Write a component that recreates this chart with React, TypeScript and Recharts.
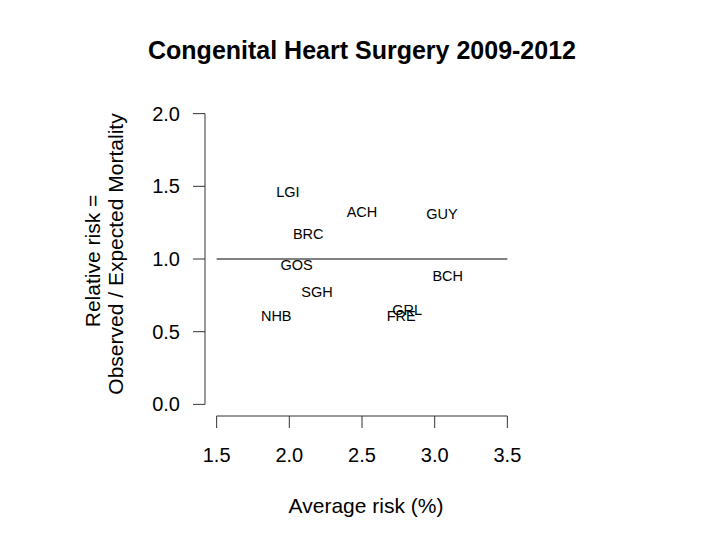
import React from "react";
import { ScatterChart, Scatter, XAxis, YAxis, ReferenceLine } from "recharts";

// hospital codes, average risk (%) and relative risk (observed / expected)
const hospitals = ["LGI", "ACH", "GUY", "BRC", "GOS", "BCH", "SGH", "NHB", "GRL", "FRE"];
const averageRisk = [1.99, 2.5, 3.05, 2.13, 2.05, 3.09, 2.19, 1.91, 2.81, 2.77];
const relativeRisk = [1.46, 1.32, 1.31, 1.17, 0.96, 0.88, 0.77, 0.61, 0.65, 0.61];

const xTicks = [1.5, 2.0, 2.5, 3.0, 3.5];
const yTicks = [0.0, 0.5, 1.0, 1.5, 2.0];

const points = hospitals.map((name, i) => ({ name, x: averageRisk[i], y: relativeRisk[i] }));

const FONT = "'Liberation Sans', Arial, Helvetica, sans-serif";
const AXIS_COLOR = "#333";

// R-like plot: labels drawn in place of the points
const LabelShape = (props: any) => {
    const { cx, cy, payload } = props;
    return (
        <text x={cx} y={cy} textAnchor="middle" dominantBaseline="central"
            fontFamily={FONT} fontSize={14.5} fill="#000">
            {payload.name}
        </text>
    );
};

export default function App() {
    return (
        <div style={{ position: "absolute", left: 0, top: 0, width: 722, height: 543, background: "#fff" }}>
            <ScatterChart width={722} height={543} margin={{ top: 102, right: 203, bottom: 97, left: 145 }}>
                <XAxis
                    type="number"
                    dataKey="x"
                    domain={[1.42, 3.58]}
                    ticks={xTicks}
                    interval={0}
                    allowDataOverflow
                    height={30}
                    axisLine={false}
                    tickLine={{ stroke: AXIS_COLOR }}
                    tickSize={12}
                    tickMargin={20}
                    tickFormatter={(v: number) => v.toFixed(1)}
                    tick={{ fill: "#000", fontSize: 20, fontFamily: FONT }}
                />
                <YAxis
                    type="number"
                    dataKey="y"
                    domain={[-0.08, 2.08]}
                    ticks={yTicks}
                    interval={0}
                    allowDataOverflow
                    width={60}
                    axisLine={false}
                    tickLine={{ stroke: AXIS_COLOR }}
                    tickSize={12}
                    tickMargin={13}
                    tickFormatter={(v: number) => v.toFixed(1)}
                    tick={{ fill: "#000", fontSize: 20, fontFamily: FONT }}
                />
                <ReferenceLine segment={[{ x: 1.5, y: -0.08 }, { x: 3.5, y: -0.08 }]}
                    stroke={AXIS_COLOR} strokeWidth={1} ifOverflow="visible" />
                <ReferenceLine segment={[{ x: 1.42, y: 0 }, { x: 1.42, y: 2 }]}
                    stroke={AXIS_COLOR} strokeWidth={1} ifOverflow="visible" />
                <ReferenceLine segment={[{ x: 1.5, y: 1 }, { x: 3.5, y: 1 }]}
                    stroke="#808080" strokeWidth={2} ifOverflow="visible" />
                <Scatter data={points} shape={LabelShape} isAnimationActive={false} />
            </ScatterChart>
            <svg width={722} height={543} style={{ position: "absolute", left: 0, top: 0, pointerEvents: "none" }}>
                <text x={362} y={59} textAnchor="middle" fontFamily={FONT} fontSize={25} fontWeight="bold" fill="#000">
                    Congenital Heart Surgery 2009-2012
                </text>
                <text x={366} y={513} textAnchor="middle" fontFamily={FONT} fontSize={21} fill="#000">
                    Average risk (%)
                </text>
                <text x={100} y={261} transform="rotate(-90 100 261)" textAnchor="middle"
                    fontFamily={FONT} fontSize={21} fill="#000">
                    Relative risk =
                </text>
                <text x={123} y={254} transform="rotate(-90 123 254)" textAnchor="middle"
                    fontFamily={FONT} fontSize={21} fill="#000">
                    Observed / Expected Mortality
                </text>
            </svg>
        </div>
    );
}
